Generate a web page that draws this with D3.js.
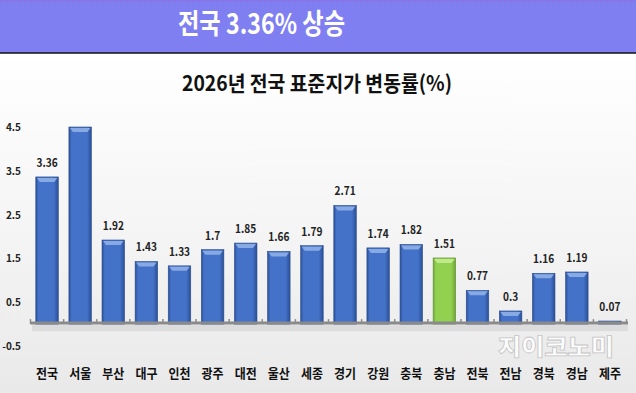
<!DOCTYPE html>
<html><head><meta charset="utf-8">
<script src="https://cdn.jsdelivr.net/npm/d3@7"></script>
<style>html,body{margin:0;padding:0;background:#fff;}svg{display:block;}</style>
</head><body>
<svg id="c" width="636" height="393"></svg>
<script>
const categories = ["전국","서울","부산","대구","인천","광주","대전","울산","세종","경기","강원","충북","충남","전북","전남","경북","경남","제주"];
const values = [3.36,4.89,1.92,1.43,1.33,1.70,1.85,1.66,1.79,2.71,1.74,1.82,1.51,0.77,0.30,1.16,1.19,0.07];
const highlight = ["충남"];
const yTicks = [4.5,3.5,2.5,1.5,0.5,-0.5];
const headerText = "전국 3.36% 상승";
const chartTitle = "2026년 전국 표준지가 변동률(%)";

const svg = d3.select("#c");
const W = 636, H = 393;
const FONT = "'Noto Sans CJK KR','Noto Sans',sans-serif";
const defs = svg.append("defs");

const bg = defs.append("linearGradient").attr("id","bg").attr("x1",0).attr("y1",0).attr("x2",0).attr("y2",1);
bg.append("stop").attr("offset","0%").attr("stop-color","#ffffff");
bg.append("stop").attr("offset","55%").attr("stop-color","#f4f4f4");
bg.append("stop").attr("offset","100%").attr("stop-color","#e9e9e9");
svg.append("rect").attr("x",0).attr("y",53).attr("width",W).attr("height",H-53).attr("fill","url(#bg)");

// header band
svg.append("rect").attr("x",0).attr("y",0).attr("width",W).attr("height",53).attr("fill","#7f7ff2");
svg.append("line").attr("x1",0).attr("x2",W).attr("y1",1).attr("y2",1).attr("stroke","#9a5fd0").attr("stroke-width",1.2).attr("stroke-dasharray","1.5,1.5");
svg.append("line").attr("x1",0).attr("x2",W).attr("y1",53).attr("y2",53).attr("stroke","#111").attr("stroke-width",1.5);
svg.append("text").attr("x",261.5).attr("y",34).attr("text-anchor","middle")
  .attr("font-family",FONT).attr("font-weight","bold").attr("font-size",28).attr("fill","#fff")
  .attr("textLength",167).attr("lengthAdjust","spacingAndGlyphs").text(headerText);

svg.append("text").attr("x",317).attr("y",91).attr("text-anchor","middle")
  .attr("font-family",FONT).attr("font-weight","bold").attr("font-size",21).attr("fill","#111")
  .attr("textLength",270).attr("lengthAdjust","spacingAndGlyphs").text(chartTitle);

const x = d3.scaleBand().domain(categories).range([30.5,626.5]).padding(0);
const y = d3.scaleLinear().domain([-0.5,4.5]).range([346,127]).clamp(true);
const barW = x.bandwidth()*0.68;

function barGrad(id, dark, mid){
  const g = defs.append("linearGradient").attr("id",id).attr("x1",0).attr("y1",0).attr("x2",1).attr("y2",0);
  g.append("stop").attr("offset","0%").attr("stop-color",dark);
  g.append("stop").attr("offset","12%").attr("stop-color",mid);
  g.append("stop").attr("offset","80%").attr("stop-color",mid);
  g.append("stop").attr("offset","100%").attr("stop-color",dark);
}
barGrad("gb","#2a4f96","#4472c8");
barGrad("gg","#6fa53a","#92d050");

// axis shadow
svg.append("rect").attr("x",32).attr("y",y(0)+1).attr("width",596).attr("height",6).attr("fill","#d4d4d4").attr("opacity",0.7);

// bars
const g = svg.append("g");
const bars = g.selectAll("g.bar").data(categories.map((c,i)=>({c,v:values[i]}))).join("g").attr("class","bar");
bars.append("rect")
  .attr("x",d=>x(d.c)+(x.bandwidth()-barW)/2)
  .attr("y",d=>y(Math.max(d.v,0)))
  .attr("width",barW)
  .attr("height",d=>Math.abs(y(d.v)-y(0)))
  .attr("fill",d=>highlight.includes(d.c)?"url(#gg)":"url(#gb)")
  .attr("stroke",d=>highlight.includes(d.c)?"#5f8f30":"#2b4c8c").attr("stroke-width",0.6);
bars.filter(d=>Math.abs(y(d.v)-y(0))>6).append("path")
  .attr("d",d=>{const x0=x(d.c)+(x.bandwidth()-barW)/2, y0=y(d.v);
    return `M${x0+1},${y0+1} L${x0+barW-1},${y0+1} L${x0+barW-4},${y0+5} L${x0+4},${y0+5} Z`;})
  .attr("fill",d=>highlight.includes(d.c)?"#c8ec92":"#8fb0e8").attr("opacity",0.9);

// value labels (only when within plot range)
bars.filter(d=>d.v<=4.5).append("text")
  .attr("x",d=>x(d.c)+x.bandwidth()/2)
  .attr("y",d=>y(Math.max(d.v,0))-10)
  .attr("text-anchor","middle").attr("font-family",FONT).attr("font-weight","bold")
  .attr("font-size",11.5).attr("fill","#222")
  .attr("transform",d=>{const cx=x(d.c)+x.bandwidth()/2; return `translate(${cx},0) scale(0.88,1) translate(${-cx},0)`;})
  .text(d=>String(+d.v.toFixed(2)));

// axis line
const ax = svg.append("g").attr("transform",`translate(0,${y(0)-1})`);
ax.append("line").attr("x1",30.5).attr("x2",628).attr("y1",0).attr("y2",0).attr("stroke","#8a8a8a").attr("stroke-width",3);
ax.selectAll("line.t").data(categories.concat(["end"])).join("line").attr("class","t")
  .attr("x1",(d,i)=>i<categories.length?x(d):x.range()[1]).attr("x2",(d,i)=>i<categories.length?x(d):x.range()[1])
  .attr("y1",-4).attr("y2",1).attr("stroke","#8a8a8a").attr("stroke-width",1.5);

// y tick labels
svg.append("g").selectAll("text").data(yTicks).join("text")
  .attr("x",21).attr("y",d=>y(d)+4).attr("text-anchor","end")
  .attr("font-family",FONT).attr("font-weight","bold").attr("font-size",10).attr("fill","#222")
  .text(d=>d);

// category labels
svg.append("g").selectAll("text").data(categories).join("text")
  .attr("x",d=>x(d)+x.bandwidth()/2).attr("y",378).attr("text-anchor","middle")
  .attr("font-family",FONT).attr("font-weight","bold").attr("font-size",13).attr("fill","#111")
  .attr("textLength",22).attr("lengthAdjust","spacingAndGlyphs").text(d=>d);

// watermark
svg.append("text").attr("x",498).attr("y",355).attr("font-family",FONT).attr("font-weight","900")
  .attr("font-size",23).attr("fill","#ffffff").attr("fill-opacity",0.9)
  .attr("stroke","#c4c4c4").attr("stroke-width",0.8)
  .attr("textLength",116).attr("lengthAdjust","spacingAndGlyphs").text("지이코노미");
</script>
</body></html>
